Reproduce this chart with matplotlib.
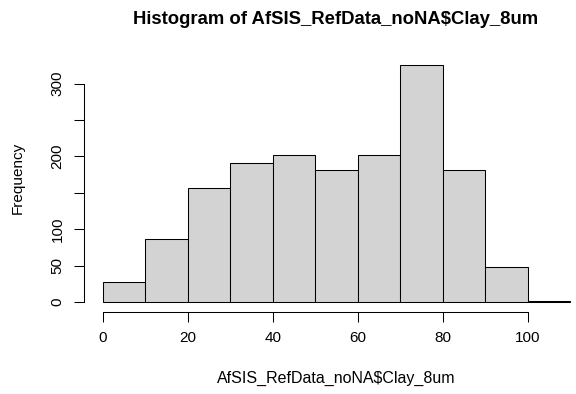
import matplotlib.pyplot as plt
import numpy as np

# histogram of clay content, R base-graphics look
bin_edges = [0, 10, 20, 30, 40, 50, 60, 70, 80, 90, 100, 110]
counts = [27, 86, 156, 191, 202, 182, 202, 325, 181, 48, 1]
x_ticks = [0, 20, 40, 60, 80, 100]
y_ticks = [0, 50, 100, 150, 200, 250, 300]
y_labels = ['0', '50', '100', '', '200', '', '300']

plt.rcParams['font.family'] = ['Liberation Sans', 'DejaVu Sans']

W, H = 576, 394
fig = plt.figure(figsize=(W / 100, H / 100), dpi=100)

# plot region (R pads the data range by 4%, right side is cut off in the image)
left, right, top, bottom = 84, 588.9, 56.0, 311.5
ax = fig.add_axes([left / W, 1 - bottom / H, (right - left) / W, (bottom - top) / H])

edges = np.array(bin_edges)
ax.bar(edges[:-1], counts, width=np.diff(edges), align='edge',
       color='#D3D3D3', edgecolor='black', linewidth=0.75)

ax.set_xlim(-4.4, 114.4)
ax.set_ylim(-13, 338)

for s in ['top', 'right']:
    ax.spines[s].set_visible(False)
ax.spines['left'].set_bounds(0, 300)
ax.spines['bottom'].set_bounds(0, 100)
ax.spines['left'].set_linewidth(0.75)
ax.spines['bottom'].set_linewidth(0.75)

ax.set_xticks(x_ticks)
ax.set_xticklabels([str(t) for t in x_ticks])
ax.set_yticks(y_ticks)
ax.set_yticklabels(y_labels, rotation=90, va='center')
ax.tick_params(axis='both', direction='out', length=7, width=0.75, labelsize=11)
ax.tick_params(axis='x', pad=7)
ax.tick_params(axis='y', pad=7)

fig.text(336 / W, 1 - 24 / H, 'Histogram of AfSIS_RefData_noNA$Clay_8um',
         ha='center', va='baseline', fontsize=13.3, fontweight='bold')
fig.text(336 / W, 1 - 383 / H, 'AfSIS_RefData_noNA$Clay_8um',
         ha='center', va='baseline', fontsize=11.5)
fig.text(18 / W, 1 - 178 / H, 'Frequency', ha='center', va='center',
         rotation=90, fontsize=11)

fig.savefig('out.png', dpi=100)
